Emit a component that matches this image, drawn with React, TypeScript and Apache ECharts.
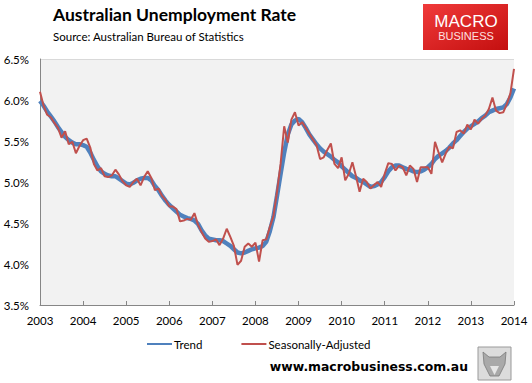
import React, { useEffect, useRef } from "react";
import * as echarts from "echarts";

const yearLabels = ["2003", "2004", "2005", "2006", "2007", "2008", "2009", "2010", "2011", "2012", "2013", "2014"];

const trend = [
  5.99, 5.93, 5.86, 5.80, 5.74, 5.67, 5.61, 5.55, 5.51, 5.48,
  5.46, 5.46, 5.45, 5.43, 5.36, 5.27, 5.19, 5.13, 5.10, 5.08,
  5.07, 5.07, 5.04, 5.01, 4.98, 4.97, 4.99, 5.02, 5.04, 5.05,
  5.05, 5.02, 4.95, 4.90, 4.83, 4.77, 4.72, 4.68, 4.64, 4.60,
  4.58, 4.56, 4.55, 4.53, 4.49, 4.41, 4.35, 4.31, 4.30, 4.29,
  4.29, 4.28, 4.25, 4.22, 4.18, 4.14, 4.13, 4.14, 4.16, 4.18,
  4.19, 4.20, 4.22, 4.27, 4.40, 4.57, 4.83, 5.10, 5.36, 5.58,
  5.70, 5.75, 5.77, 5.73, 5.66, 5.58, 5.52, 5.46, 5.41, 5.37,
  5.34, 5.31, 5.27, 5.24, 5.19, 5.15, 5.11, 5.07, 5.05, 5.02,
  5.00, 4.97, 4.94, 4.95, 4.97, 5.00, 5.06, 5.13, 5.18, 5.20,
  5.20, 5.18, 5.16, 5.15, 5.13, 5.12, 5.13, 5.15, 5.18, 5.22,
  5.28, 5.32, 5.35, 5.38, 5.42, 5.47, 5.51, 5.56, 5.61, 5.65,
  5.68, 5.71, 5.74, 5.78, 5.81, 5.85, 5.87, 5.89, 5.90, 5.91,
  5.95, 6.03, 6.14,
];

const seasonallyAdjusted = [
  6.10, 5.93, 5.82, 5.79, 5.72, 5.66, 5.54, 5.62, 5.46, 5.49,
  5.35, 5.44, 5.51, 5.53, 5.42, 5.22, 5.14, 5.17, 5.07, 5.06,
  5.08, 5.15, 5.09, 5.01, 4.96, 4.94, 5.00, 5.04, 4.96, 5.06,
  5.13, 5.05, 4.90, 4.92, 4.83, 4.78, 4.70, 4.70, 4.67, 4.52,
  4.53, 4.55, 4.54, 4.62, 4.48, 4.39, 4.31, 4.27, 4.28, 4.30,
  4.23, 4.31, 4.43, 4.33, 4.22, 3.99, 4.04, 4.21, 4.25, 4.21,
  4.26, 4.03, 4.29, 4.30, 4.45, 4.58, 4.88, 5.22, 5.68, 5.48,
  5.76, 5.85, 5.69, 5.73, 5.66, 5.59, 5.52, 5.45, 5.28, 5.30,
  5.39, 5.47, 5.22, 5.17, 5.30, 5.02, 5.10, 5.24, 5.07, 4.88,
  5.04, 5.00, 4.92, 4.96, 5.00, 4.94, 5.10, 5.23, 5.22, 5.14,
  5.20, 5.18, 5.08, 5.20, 5.16, 5.00, 5.18, 5.18, 5.18, 5.10,
  5.49, 5.36, 5.24, 5.35, 5.43, 5.41, 5.61, 5.63, 5.59, 5.70,
  5.64, 5.76, 5.71, 5.77, 5.81, 5.89, 6.03, 5.87, 5.84, 5.85,
  5.95, 6.08, 6.38,
];

const categories = trend.map((_, i) => `${yearLabels[Math.floor(i / 12)]}-${(i % 12) + 1}`);

const FONT = "Lato, 'Open Sans', sans-serif";

export default function App() {
  const ref = useRef<HTMLDivElement>(null);

  useEffect(() => {
    if (!ref.current) return;
    const chart = echarts.init(ref.current, undefined, { renderer: "svg" });
    const splitColors = yearLabels.slice(0, 7).map((_, i) => (i === 6 ? "#d9d9d9" : "rgba(0,0,0,0)"));
    chart.setOption({
      animation: false,
      backgroundColor: "#ffffff",
      textStyle: { fontFamily: FONT },
      grid: {
        left: 40,
        right: 18,
        top: 59,
        bottom: 78,
        show: true,
        backgroundColor: "#f2f2f2",
        borderWidth: 0,
      },
      xAxis: {
        type: "category",
        data: categories,
        boundaryGap: false,
        axisLine: { lineStyle: { color: "#868686", width: 1 } },
        axisTick: {
          show: true,
          inside: true,
          length: 4,
          interval: (i: number) => i % 12 === 0,
          lineStyle: { color: "#868686" },
        },
        axisLabel: {
          interval: (i: number) => i % 12 === 0,
          formatter: (_v: string, i: number) => yearLabels[Math.floor(i / 12)],
          color: "#000",
          fontSize: 11.5,
          fontFamily: FONT,
          margin: 9,
        },
        splitLine: { show: false },
      },
      yAxis: {
        type: "value",
        min: 3.5,
        max: 6.5,
        interval: 0.5,
        axisLine: { show: true, lineStyle: { color: "#868686", width: 1 } },
        axisTick: { show: false },
        axisLabel: {
          formatter: (v: number) => v.toFixed(1) + "%",
          color: "#000",
          fontSize: 11.5,
          fontFamily: FONT,
          margin: 11,
        },
        splitLine: { show: true, lineStyle: { color: splitColors, width: 1 } },
      },
      legend: {
        left: 141,
        top: 333,
        itemWidth: 25,
        itemHeight: 10,
        itemGap: 38,
        itemStyle: { opacity: 0 },
        textStyle: { color: "#000", fontSize: 11.5, fontFamily: FONT, padding: [0, 0, 0, -3] },
        data: ["Trend", "Seasonally-Adjusted"],
      },
      series: [
        {
          name: "Trend",
          type: "line",
          data: trend,
          symbol: "none",
          smooth: false,
          lineStyle: { color: "#4f81bd", width: 4.5 },
          itemStyle: { color: "#4f81bd" },
          z: 2,
        },
        {
          name: "Seasonally-Adjusted",
          type: "line",
          data: seasonallyAdjusted,
          symbol: "none",
          lineStyle: { color: "#c0504d", width: 2 },
          itemStyle: { color: "#c0504d" },
          z: 3,
        },
      ],
      graphic: [
        {
          type: "text",
          left: 53,
          top: 5,
          style: { text: "Australian Unemployment Rate", fill: "#000", font: `bold 17.5px ${FONT}` },
        },
        {
          type: "text",
          left: 53,
          top: 30,
          style: { text: "Source: Australian Bureau of Statistics", fill: "#000", font: `11.5px ${FONT}` },
        },
        {
          type: "rect",
          shape: { x: 423, y: 4, width: 85, height: 46 },
          style: {
            fill: new echarts.graphic.LinearGradient(0, 0, 1, 1, [
              { offset: 0, color: "#f03a3a" },
              { offset: 1, color: "#c40f0f" },
            ]),
          },
        },
        {
          type: "text",
          x: 466,
          y: 21.5,
          style: {
            text: "MACRO",
            fill: "#fff",
            font: "17px 'Liberation Sans', Arial, sans-serif",
            align: "center",
            verticalAlign: "middle",
          },
        },
        {
          type: "text",
          x: 466,
          y: 36,
          style: {
            text: "BUSINESS",
            fill: "#fde0e0",
            font: "11px 'Liberation Sans', Arial, sans-serif",
            align: "center",
            verticalAlign: "middle",
          },
        },
        {
          type: "text",
          x: 468,
          y: 366,
          style: {
            text: "www.macrobusiness.com.au",
            fill: "#000",
            font: "bold 12.4px 'DejaVu Sans', Verdana, sans-serif",
            align: "right",
            verticalAlign: "middle",
          },
        },
        {
          type: "rect",
          shape: { x: 478, y: 347, width: 33, height: 33 },
          style: { fill: "#dcdcdc", stroke: "#9a9a9a", lineWidth: 1 },
        },
        {
          type: "polygon",
          shape: {
            points: [
              [483, 352], [489, 357], [500, 357], [506, 352], [505, 364],
              [499, 376], [490, 376], [484, 364],
            ],
          },
          style: { fill: "#a9a9a9", stroke: "#7a7a7a", lineWidth: 0.8 },
        },
        {
          type: "polygon",
          shape: { points: [[490, 366], [499, 366], [494.5, 375]] },
          style: { fill: "#e6e6e6" },
        },
      ],
    });
    return () => chart.dispose();
  }, []);

  return (
    <div
      ref={ref}
      style={{ position: "absolute", left: 0, top: 0, width: 532, height: 383, background: "#fff" }}
    />
  );
}
